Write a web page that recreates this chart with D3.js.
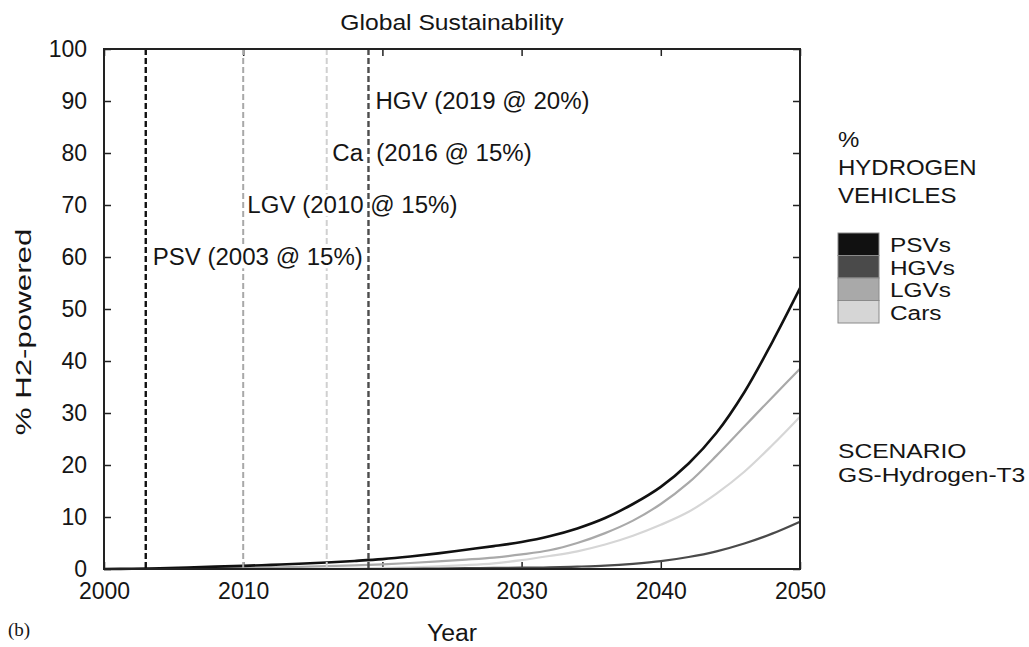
<!DOCTYPE html>
<html>
<head>
<meta charset="utf-8">
<script src="https://cdn.jsdelivr.net/npm/d3@7"></script>
<style>
  html, body { margin: 0; padding: 0; background: #fff; }
  svg { display: block; }
  text { font-family: "Liberation Sans", Arial, Helvetica, sans-serif; fill: #151515; }
</style>
</head>
<body>
<svg id="chart" width="1029" height="647"></svg>
<script>
// Projected share of hydrogen-powered vehicles, by vehicle class (% of fleet)
const years = [2000, 2002, 2004, 2006, 2008, 2010, 2012, 2014, 2016, 2018, 2020, 2022, 2024,
               2026, 2028, 2030, 2032, 2034, 2036, 2038, 2040, 2042, 2044, 2046, 2048, 2050];
const psvValues = [0, 0.05, 0.15, 0.3, 0.45, 0.6, 0.8, 1.0, 1.25, 1.55, 1.9, 2.4, 3.0,
                   3.7, 4.4, 5.2, 6.3, 7.8, 9.8, 12.5, 15.8, 20.3, 26.2, 34.0, 43.6, 54];
const hgvValues = [0, 0, 0, 0, 0, 0, 0, 0, 0, 0, 0, 0.05, 0.1,
                   0.15, 0.2, 0.25, 0.3, 0.45, 0.65, 1.0, 1.5, 2.3, 3.4, 4.9, 6.8, 9.1];
const lgvValues = [0, 0, 0.05, 0.1, 0.15, 0.2, 0.3, 0.4, 0.55, 0.7, 0.9, 1.15, 1.45,
                   1.8, 2.2, 2.8, 3.6, 5.0, 6.9, 9.3, 12.5, 16.6, 21.8, 27.4, 33, 38.5];
const carValues = [0, 0, 0, 0, 0, 0, 0, 0, 0.05, 0.1, 0.2, 0.3, 0.5,
                   0.75, 1.1, 1.7, 2.5, 3.4, 4.7, 6.4, 8.5, 11.0, 14.5, 18.7, 23.8, 29.3];

const seriesNames = ["PSVs", "HGVs", "LGVs", "Cars"];
const seriesColors = ["#111111", "#4a4a4a", "#a9a9a9", "#d6d6d6"];

// Introduction year of each class and its label
const introYears = [2003, 2010, 2016, 2019];
const introColors = ["#111111", "#a8a8a8", "#d0d0d0", "#4d4d4d"];
const introLabels = ["PSV (2003 @ 15%)", "LGV (2010 @ 15%)", "Ca\u00a0\u00a0(2016 @ 15%)", "HGV (2019 @ 20%)"];
const introLabelLevels = [60, 70, 80, 90];
const introLabelYears = [2003.5, 2010.3, 2016.4, 2019.5];

const xTicks = [2000, 2010, 2020, 2030, 2040, 2050];
const yTicks = [0, 10, 20, 30, 40, 50, 60, 70, 80, 90, 100];

const svg = d3.select("#chart");
const margin = { left: 104, top: 49, right: 229, bottom: 78 };
const W = 1029, H = 647;
const x = d3.scaleLinear().domain([2000, 2050]).range([margin.left, W - margin.right]);
const y = d3.scaleLinear().domain([0, 100]).range([H - margin.bottom, margin.top]);
const FS = 23;

// widen a text horizontally by a factor, keeping its glyph height
function widen(sel, factor) {
  sel.each(function () {
    const len = this.getComputedTextLength();
    d3.select(this).attr("textLength", len * factor).attr("lengthAdjust", "spacingAndGlyphs");
  });
  return sel;
}

// Axes with inward ticks on all four sides
const tickStyle = g => g.selectAll("line").attr("stroke", "#222").attr("stroke-width", 1.5);
svg.append("g").attr("transform", `translate(0,${y(0)})`)
  .call(d3.axisBottom(x).tickValues(xTicks).tickFormat(d3.format("d")).tickSizeInner(-7).tickSizeOuter(0).tickPadding(14))
  .call(g => { g.select(".domain").remove(); g.selectAll("text").attr("font-size", FS).style("font-family", "Liberation Sans, Arial, sans-serif").attr("fill", "#151515"); tickStyle(g); });
svg.append("g").attr("transform", `translate(0,${y(100)})`)
  .call(d3.axisTop(x).tickValues(xTicks).tickFormat("").tickSizeInner(-7).tickSizeOuter(0))
  .call(g => { g.select(".domain").remove(); tickStyle(g); });
svg.append("g").attr("transform", `translate(${x(2000)},0)`)
  .call(d3.axisLeft(y).tickValues(yTicks).tickSizeInner(-7).tickSizeOuter(0).tickPadding(17))
  .call(g => { g.select(".domain").remove(); g.selectAll("text").attr("font-size", FS).style("font-family", "Liberation Sans, Arial, sans-serif").attr("fill", "#151515"); tickStyle(g); });
svg.append("g").attr("transform", `translate(${x(2050)},0)`)
  .call(d3.axisRight(y).tickValues(yTicks).tickFormat("").tickSizeInner(-7).tickSizeOuter(0))
  .call(g => { g.select(".domain").remove(); tickStyle(g); });

// Series curves
const allSeries = [psvValues, hgvValues, lgvValues, carValues];
const line = d3.line().x((d, i) => x(years[i])).y(d => y(Math.max(0, d))).curve(d3.curveCatmullRom.alpha(0.5));
[3, 2, 1, 0].forEach(k => {
  svg.append("path").datum(allSeries[k])
    .attr("d", line)
    .attr("fill", "none")
    .attr("stroke", seriesColors[k])
    .attr("stroke-width", k === 0 ? 2.6 : 2.2);
});

// Dashed introduction lines (the last one is drawn above the labels)
function dashLine(i) {
  svg.append("line")
    .attr("x1", x(introYears[i])).attr("x2", x(introYears[i]))
    .attr("y1", y(100)).attr("y2", y(0))
    .attr("stroke", introColors[i])
    .attr("stroke-width", (i === 0 || i === 3) ? 2.4 : 2)
    .attr("stroke-dasharray", "6,3");
}
[0, 1, 2].forEach(dashLine);

introLabels.forEach((t, i) => {
  const g = svg.append("g");
  const txt = g.append("text")
    .attr("x", x(introLabelYears[i]))
    .attr("y", y(introLabelLevels[i]))
    .attr("dy", "0.36em")
    .attr("font-size", 23)
    .text(t);
  widen(txt, 1.045);
  const b = txt.node().getBBox();
  g.insert("rect", "text")
    .attr("x", b.x - 1).attr("y", b.y + 2)
    .attr("width", b.width + 2).attr("height", b.height - 4)
    .attr("fill", "#fff");
});
dashLine(3);

// Frame
svg.append("rect")
  .attr("x", x(2000)).attr("y", y(100))
  .attr("width", x(2050) - x(2000)).attr("height", y(0) - y(100))
  .attr("fill", "none").attr("stroke", "#222").attr("stroke-width", 2);

// Titles
widen(svg.append("text").attr("x", (x(2000) + x(2050)) / 2).attr("y", 30)
  .attr("text-anchor", "middle").attr("font-size", 22).text("Global Sustainability"), 1.12);
widen(svg.append("text").attr("x", (x(2000) + x(2050)) / 2).attr("y", 641)
  .attr("text-anchor", "middle").attr("font-size", 23).text("Year"), 1.08);
widen(svg.append("text").attr("transform", `translate(31,${332}) rotate(-90)`)
  .attr("text-anchor", "middle").attr("font-size", 22).text("% H2-powered"), 1.42);
svg.append("text").attr("x", 8).attr("y", 636)
  .attr("font-size", 19).style("font-family", "Liberation Serif, Times New Roman, serif").text("(b)");

// Legend
const lx = 838;
[["%", 147], ["HYDROGEN", 175], ["VEHICLES", 203]].forEach(([t, yy]) => {
  widen(svg.append("text").attr("x", lx).attr("y", yy).attr("font-size", 22).text(t), 1.09);
});
const swH = 22.5, swW = 41, swTop = 233;
seriesNames.forEach((n, i) => {
  svg.append("rect").attr("x", lx).attr("y", swTop + i * swH)
    .attr("width", swW).attr("height", swH)
    .attr("fill", seriesColors[i]).attr("stroke", "#8a8a8a").attr("stroke-width", 1);
  widen(svg.append("text").attr("x", 890).attr("y", swTop + i * swH + 19)
    .attr("font-size", 19.5).text(n), 1.25);
});
[["SCENARIO", 458], ["GS-Hydrogen-T3", 482]].forEach(([t, yy]) => {
  widen(svg.append("text").attr("x", lx).attr("y", yy).attr("font-size", 20.5).text(t), 1.2);
});
</script>
</body>
</html>
